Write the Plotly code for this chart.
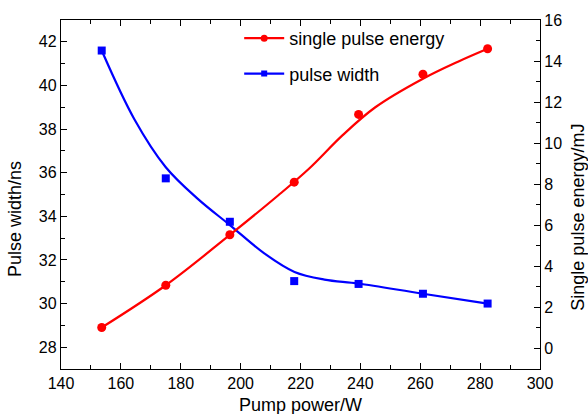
import plotly.graph_objects as go

# measured data points
power = [153.6, 175.0, 196.4, 217.9, 239.4, 260.9, 282.5]
pulse_width = [41.6, 35.74, 33.75, 31.03, 30.9, 30.45, 30.0]
pulse_energy = [1.02, 3.08, 5.54, 8.1, 11.4, 13.36, 14.6]

# smooth fitted curves
width_curve_power = [153.6, 164.5, 175, 185.7, 196.4, 207.9, 218, 228, 239.3, 260.9, 282.5]
width_curve = [41.6, 38.45, 36.25, 34.8, 33.6, 32.3, 31.45, 31.1, 30.92, 30.45, 30.0]
energy_curve_power = [153.6, 175, 196.4, 212.5, 223, 234, 245, 260.9, 272.6, 282.5]
energy_curve = [1.02, 3.08, 5.53, 7.45, 8.78, 10.38, 11.75, 13.14, 13.97, 14.6]

x_ticks = [140, 160, 180, 200, 220, 240, 260, 280, 300]
RED = "#ff0000"
BLUE = "#0000ff"
FONT = "Liberation Sans, Arial, sans-serif"

fig = go.Figure()

# curves
fig.add_trace(go.Scatter(x=energy_curve_power, y=energy_curve, mode="lines",
                         line=dict(color=RED, width=2.2, shape="spline", smoothing=1.0),
                         yaxis="y2", showlegend=False, hoverinfo="skip"))
fig.add_trace(go.Scatter(x=width_curve_power, y=width_curve, mode="lines",
                         line=dict(color=BLUE, width=2.2, shape="spline", smoothing=1.0),
                         yaxis="y", showlegend=False, hoverinfo="skip"))
# points
fig.add_trace(go.Scatter(x=power, y=pulse_energy, mode="markers",
                         marker=dict(color=RED, size=9, symbol="circle"),
                         yaxis="y2", showlegend=False))
fig.add_trace(go.Scatter(x=power, y=pulse_width, mode="markers",
                         marker=dict(color=BLUE, size=8, symbol="square"),
                         yaxis="y", showlegend=False))
# legend entries
fig.add_trace(go.Scatter(x=[None], y=[None], mode="lines+markers", name="single pulse energy",
                         line=dict(color=RED, width=2.2), marker=dict(color=RED, size=7, symbol="circle"),
                         legendgroup="a"))
fig.add_trace(go.Scatter(x=[None], y=[None], mode="lines+markers", name="pulse width",
                         line=dict(color=BLUE, width=2.2), marker=dict(color=BLUE, size=6, symbol="square"),
                         legendgroup="b"))

axis_common = dict(showline=True, linecolor="black", linewidth=1.3, ticks="inside",
                   tickcolor="black", tickwidth=1.3, ticklen=6, showgrid=False, zeroline=False,
                   tickfont=dict(family=FONT, size=16, color="black"))

fig.update_layout(
    width=588, height=414,
    margin=dict(l=61, r=48, t=16, b=45),
    paper_bgcolor="white", plot_bgcolor="white",
    font=dict(family=FONT, color="black"),
    xaxis=dict(range=[140, 300], tickvals=x_ticks, mirror="ticks",
               minor=dict(dtick=10, tick0=140, ticks="inside", ticklen=4, tickcolor="black", tickwidth=1.3),
               **axis_common),
    yaxis=dict(range=[27, 43], tick0=28, dtick=2,
               minor=dict(dtick=1, tick0=27, ticks="inside", ticklen=4, tickcolor="black", tickwidth=1.3),
               **axis_common),
    yaxis2=dict(range=[-1, 16], tick0=0, dtick=2, overlaying="y", side="right", anchor="x",
                minor=dict(dtick=1, tick0=-1, ticks="inside", ticklen=4, tickcolor="black", tickwidth=1.3),
                **axis_common),
    legend=dict(x=0.372, y=1.0, xanchor="left", yanchor="top", bgcolor="rgba(0,0,0,0)",
                font=dict(family=FONT, size=18, color="black"), tracegroupgap=9, itemwidth=40),
    annotations=[
        dict(text="Pump power/W", xref="paper", yref="paper", x=0.5, y=-0.102,
             xanchor="center", yanchor="middle", showarrow=False,
             font=dict(family=FONT, size=18, color="black")),
        dict(text="Pulse width/ns", xref="paper", yref="paper", x=-0.096, y=0.43,
             xanchor="center", yanchor="middle", showarrow=False, textangle=-90,
             font=dict(family=FONT, size=18, color="black")),
        dict(text="Single pulse energy/mJ", xref="paper", yref="paper", x=1.079, y=0.436,
             xanchor="center", yanchor="middle", showarrow=False, textangle=-90,
             font=dict(family=FONT, size=18, color="black")),
    ],
)

fig.write_html("out.html")
